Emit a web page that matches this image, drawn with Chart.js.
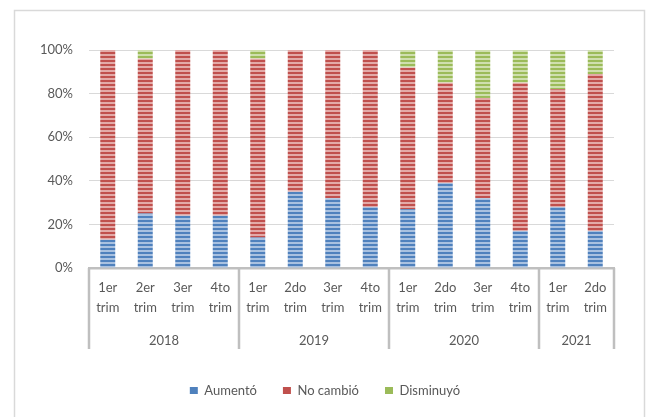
<!DOCTYPE html>
<html>
<head>
<meta charset="utf-8">
<script src="https://cdn.jsdelivr.net/npm/chart.js@4/dist/chart.umd.min.js"></script>
<style>
  html,body{margin:0;padding:0;background:#fff;}
  canvas{display:block;}
</style>
</head>
<body>
<canvas id="graf" width="647" height="417"></canvas>
<script>
(function(){

// categorias
const trimestres = [
  ["1er","trim"],["2er","trim"],["3er","trim"],["4to","trim"],
  ["1er","trim"],["2do","trim"],["3er","trim"],["4to","trim"],
  ["1er","trim"],["2do","trim"],["3er","trim"],["4to","trim"],
  ["1er","trim"],["2do","trim"]
];
const anios = ["2018","2019","2020","2021"];
const trimPorAnio = [4,4,4,2];

// series (%)
const aumento    = [13,25,24,24,14,35,32,28,27,39,32,17,28,17];
const noCambio   = [87,71,76,76,82,65,68,72,65,46,46,68,54,72];
const disminuyo  = [0,4,0,0,4,0,0,0,8,15,22,15,18,11];

const ticksY = [0,20,40,60,80,100];

const FUENTE = "Lato, 'Open Sans', sans-serif";
const GRIS = "#595959";

// rayado horizontal tipo excel
function rayado(base, claro){
  const c = document.createElement("canvas");
  c.width = 4; c.height = 4;
  const x = c.getContext("2d");
  x.fillStyle = base; x.fillRect(0,0,4,2);
  x.fillStyle = claro; x.fillRect(0,2,4,2);
  return x.createPattern(c,"repeat");
}

const azul  = rayado("#4f81bd","#a9c1e0");
const rojo  = rayado("#c0504d","#e3aaa8");
const verde = rayado("#9bbb59","#cfdfae");

const marco = {
  id:"marco",
  beforeDraw(chart){
    const ctx = chart.ctx;
    ctx.save();
    ctx.strokeStyle = "#d9d9d9";
    ctx.lineWidth = 1.5;
    ctx.strokeRect(14.5,10.5,630,420);
    ctx.restore();
  }
};

// separadores y años del eje x
const grupos = {
  id:"grupos",
  afterDraw(chart){
    const ctx = chart.ctx;
    const x = chart.scales.x;
    const area = chart.chartArea;
    const paso = x.getPixelForValue(1) - x.getPixelForValue(0);
    ctx.save();
    ctx.strokeStyle = "#bfbfbf";
    ctx.lineWidth = 2.5;
    ctx.fillStyle = GRIS;
    ctx.font = "13px " + FUENTE;
    ctx.textAlign = "center";
    ctx.textBaseline = "middle";
    let i = 0;
    const bordes = [x.getPixelForValue(0) - paso/2];
    anios.forEach((a,k)=>{
      const ini = x.getPixelForValue(i) - paso/2;
      i += trimPorAnio[k];
      const fin = x.getPixelForValue(i-1) + paso/2;
      bordes.push(fin);
      ctx.fillText(a,(ini+fin)/2,area.bottom+73);
    });
    bordes.forEach(b=>{
      ctx.beginPath();
      ctx.moveTo(b,area.bottom);
      ctx.lineTo(b,area.bottom+81);
      ctx.stroke();
    });
    ctx.restore();
  }
};

new Chart(document.getElementById("graf"),{
  type:"bar",
  data:{
    labels:trimestres,
    datasets:[
      {label:"Aumentó",data:aumento,backgroundColor:azul},
      {label:"No cambió",data:noCambio,backgroundColor:rojo},
      {label:"Disminuyó",data:disminuyo,backgroundColor:verde}
    ]
  },
  options:{
    responsive:false,
    animation:false,
    events:[],
    layout:{padding:{left:36,right:33,top:50,bottom:10}},
    datasets:{bar:{categoryPercentage:1,barPercentage:0.4,borderWidth:0}},
    plugins:{
      tooltip:{enabled:false},
      legend:{
        position:"bottom",
        labels:{
          boxWidth:8,boxHeight:7,padding:26,
          color:GRIS,
          font:{family:FUENTE,size:13},
          generateLabels(chart){
            return chart.data.datasets.map((d,i)=>({
              text:d.label,
              fillStyle:["#4f81bd","#c0504d","#9bbb59"][i],
              strokeStyle:"rgba(0,0,0,0)",
              lineWidth:0,
              fontColor:GRIS,
              datasetIndex:i
            }));
          }
        }
      }
    },
    scales:{
      x:{
        stacked:true,
        grid:{display:false,drawTicks:false},
        border:{color:"#bfbfbf",width:2.5},
        ticks:{
          color:GRIS,
          font:{family:FUENTE,size:13,lineHeight:1.6},
          padding:9,
          maxRotation:0,autoSkip:false
        },
        afterFit(s){
          s.height = s.chart.height - 268 - s.chart.legend.height - 10;
        }
      },
      y:{
        stacked:true,
        min:0,max:100,
        afterBuildTicks(s){ s.ticks = ticksY.map(v=>({value:v})); },
        grid:{color:"#d9d9d9",lineWidth:1,drawTicks:false},
        border:{display:false},
        ticks:{
          color:GRIS,
          font:{family:FUENTE,size:13},
          padding:16,
          callback:v=>v+"%"
        },
        afterFit(s){ s.width = 53; }
      }
    }
  },
  plugins:[marco,grupos]
});

})();
</script>
</body>
</html>
